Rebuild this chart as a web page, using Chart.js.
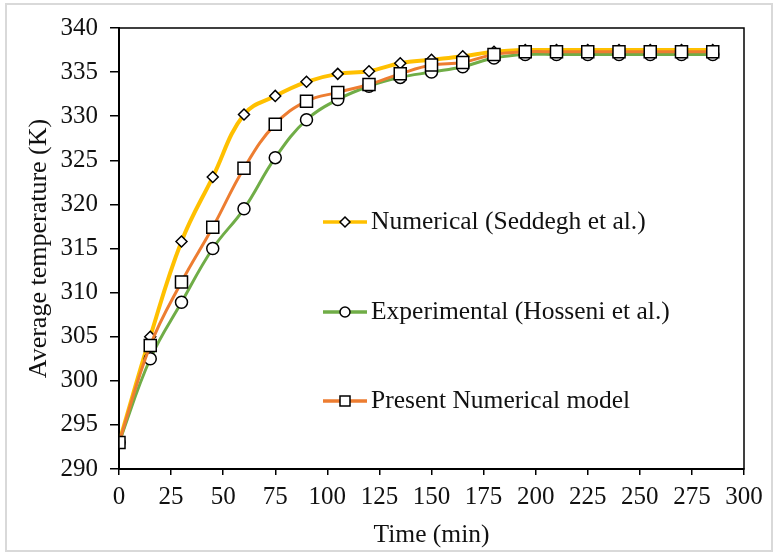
<!DOCTYPE html>
<html>
<head>
<meta charset="utf-8">
<script src="https://cdn.jsdelivr.net/npm/chart.js@4.4.1/dist/chart.umd.min.js"></script>
<style>
  html, body { margin: 0; padding: 0; background: #fff; }
  #wrap { position: relative; width: 776px; height: 557px; }
  #frame { position: absolute; left: 5px; top: 3px; width: 764px; height: 545px; border: 2px solid #d9d9d9; pointer-events: none; }
</style>
</head>
<body>
<div id="wrap">
  <canvas id="tempChart" width="776" height="557"></canvas>
  <div id="frame"></div>
</div>
<script>
// tempo em minutos
const times = [0, 15, 30, 45, 60, 75, 90, 105, 120, 135, 150, 165, 180, 195, 210, 225, 240, 255, 270, 285];

// Numerical (Seddegh et al.)
const seddegh = [293.0, 305.0, 315.8, 323.1, 330.2, 332.3, 333.9, 334.8, 335.1, 336.0, 336.4, 336.8, 337.3, 337.5, 337.5, 337.5, 337.5, 337.5, 337.5, 337.5];
// Experimental (Hosseni et al.)
const hosseni = [293.0, 302.5, 308.9, 315.0, 319.5, 325.3, 329.6, 331.9, 333.4, 334.4, 335.0, 335.6, 336.6, 337.0, 337.0, 337.0, 337.0, 337.0, 337.0, 337.0];
// Present Numerical model
const present = [293.0, 304.0, 311.2, 317.4, 324.1, 329.1, 331.7, 332.7, 333.6, 334.8, 335.8, 336.1, 337.0, 337.3, 337.3, 337.3, 337.3, 337.3, 337.3, 337.3];

const seriesNames = ['Numerical (Seddegh et al.)', 'Experimental (Hosseni et al.)', 'Present Numerical model'];
const seriesColors = ['#FFC000', '#70AD47', '#ED7D31'];
const seriesMarkers = ['rectRot', 'circle', 'rect'];

const xTitle = 'Time (min)';
const yTitle = 'Average temperature (K)';

const toPoints = (vals) => vals.map((v, i) => ({ x: times[i], y: v }));

const FONT = "'Liberation Serif', 'Times New Roman', serif";
Chart.defaults.font.family = FONT;
Chart.defaults.font.size = 25;
Chart.defaults.color = '#111';

// desenha a moldura da área do gráfico e a legenda interna
const framePlugin = {
    id: 'framePlugin',
    afterDraw(chart) {
        const { ctx, chartArea } = chart;
        ctx.save();
        ctx.strokeStyle = '#000';
        ctx.lineWidth = 1.5;
        ctx.strokeRect(chartArea.left, chartArea.top, chartArea.right - chartArea.left, chartArea.bottom - chartArea.top);

        const rows = [222, 312, 401];
        seriesNames.forEach((name, i) => {
            const y = rows[i];
            ctx.strokeStyle = seriesColors[i];
            ctx.lineWidth = 3.5;
            ctx.beginPath();
            ctx.moveTo(323, y);
            ctx.lineTo(367, y);
            ctx.stroke();

            ctx.fillStyle = '#fff';
            ctx.strokeStyle = '#000';
            ctx.lineWidth = 1.5;
            ctx.beginPath();
            const cx = 345;
            if (seriesMarkers[i] === 'rectRot') {
                ctx.moveTo(cx, y - 5);
                ctx.lineTo(cx + 5, y);
                ctx.lineTo(cx, y + 5);
                ctx.lineTo(cx - 5, y);
                ctx.closePath();
            } else if (seriesMarkers[i] === 'circle') {
                ctx.arc(cx, y, 5, 0, Math.PI * 2);
            } else {
                ctx.rect(cx - 5, y - 5, 10, 10);
            }
            ctx.fill();
            ctx.stroke();

            ctx.fillStyle = '#111';
            ctx.font = '25.5px ' + FONT;
            ctx.textBaseline = 'middle';
            ctx.textAlign = 'left';
            ctx.fillText(name, 371, y);
        });
        ctx.restore();
    }
};

const datasets = [seddegh, hosseni, present].map((vals, i) => ({
    label: seriesNames[i],
    data: toPoints(vals),
    borderColor: seriesColors[i],
    borderWidth: i === 0 ? 4 : 3,
    tension: 0.4,
    pointStyle: seriesMarkers[i],
    pointRadius: i === 0 ? 5.5 : (i === 1 ? 6 : 8.5),
    pointBackgroundColor: '#fff',
    pointBorderColor: '#000',
    pointBorderWidth: 1.5,
    order: 2 - i,
    fill: false
}));

new Chart(document.getElementById('tempChart'), {
    type: 'line',
    data: { datasets: datasets },
    options: {
        responsive: false,
        animation: false,
        layout: { padding: { left: 8, top: 28, right: 32, bottom: 6 } },
        plugins: {
            legend: { display: false },
            tooltip: { enabled: false }
        },
        scales: {
            x: {
                type: 'linear',
                min: 0,
                max: 300,
                afterFit: (scale) => { scale.height = 557 - 469 - 6; },
                ticks: { stepSize: 25, padding: 7, maxRotation: 0, autoSkip: false, color: '#111' },
                grid: { drawOnChartArea: false, drawTicks: true, tickLength: 6, color: '#000', lineWidth: 1.5 },
                border: { display: true, color: '#000', width: 2 },
                title: { display: true, text: xTitle, color: '#111', font: { size: 25.5 }, padding: { top: 0, bottom: 0 } }
            },
            y: {
                min: 290,
                max: 340,
                afterFit: (scale) => { scale.width = 119 - 8; },
                ticks: { stepSize: 5, padding: 12, color: '#111' },
                grid: { drawOnChartArea: false, drawTicks: true, tickLength: 9, color: '#000', lineWidth: 1.5 },
                border: { display: true, color: '#000', width: 2 },
                title: { display: true, text: yTitle, color: '#111', font: { size: 26 }, padding: { top: 16, bottom: 0 } }
            }
        }
    },
    plugins: [framePlugin]
});
</script>
</body>
</html>
